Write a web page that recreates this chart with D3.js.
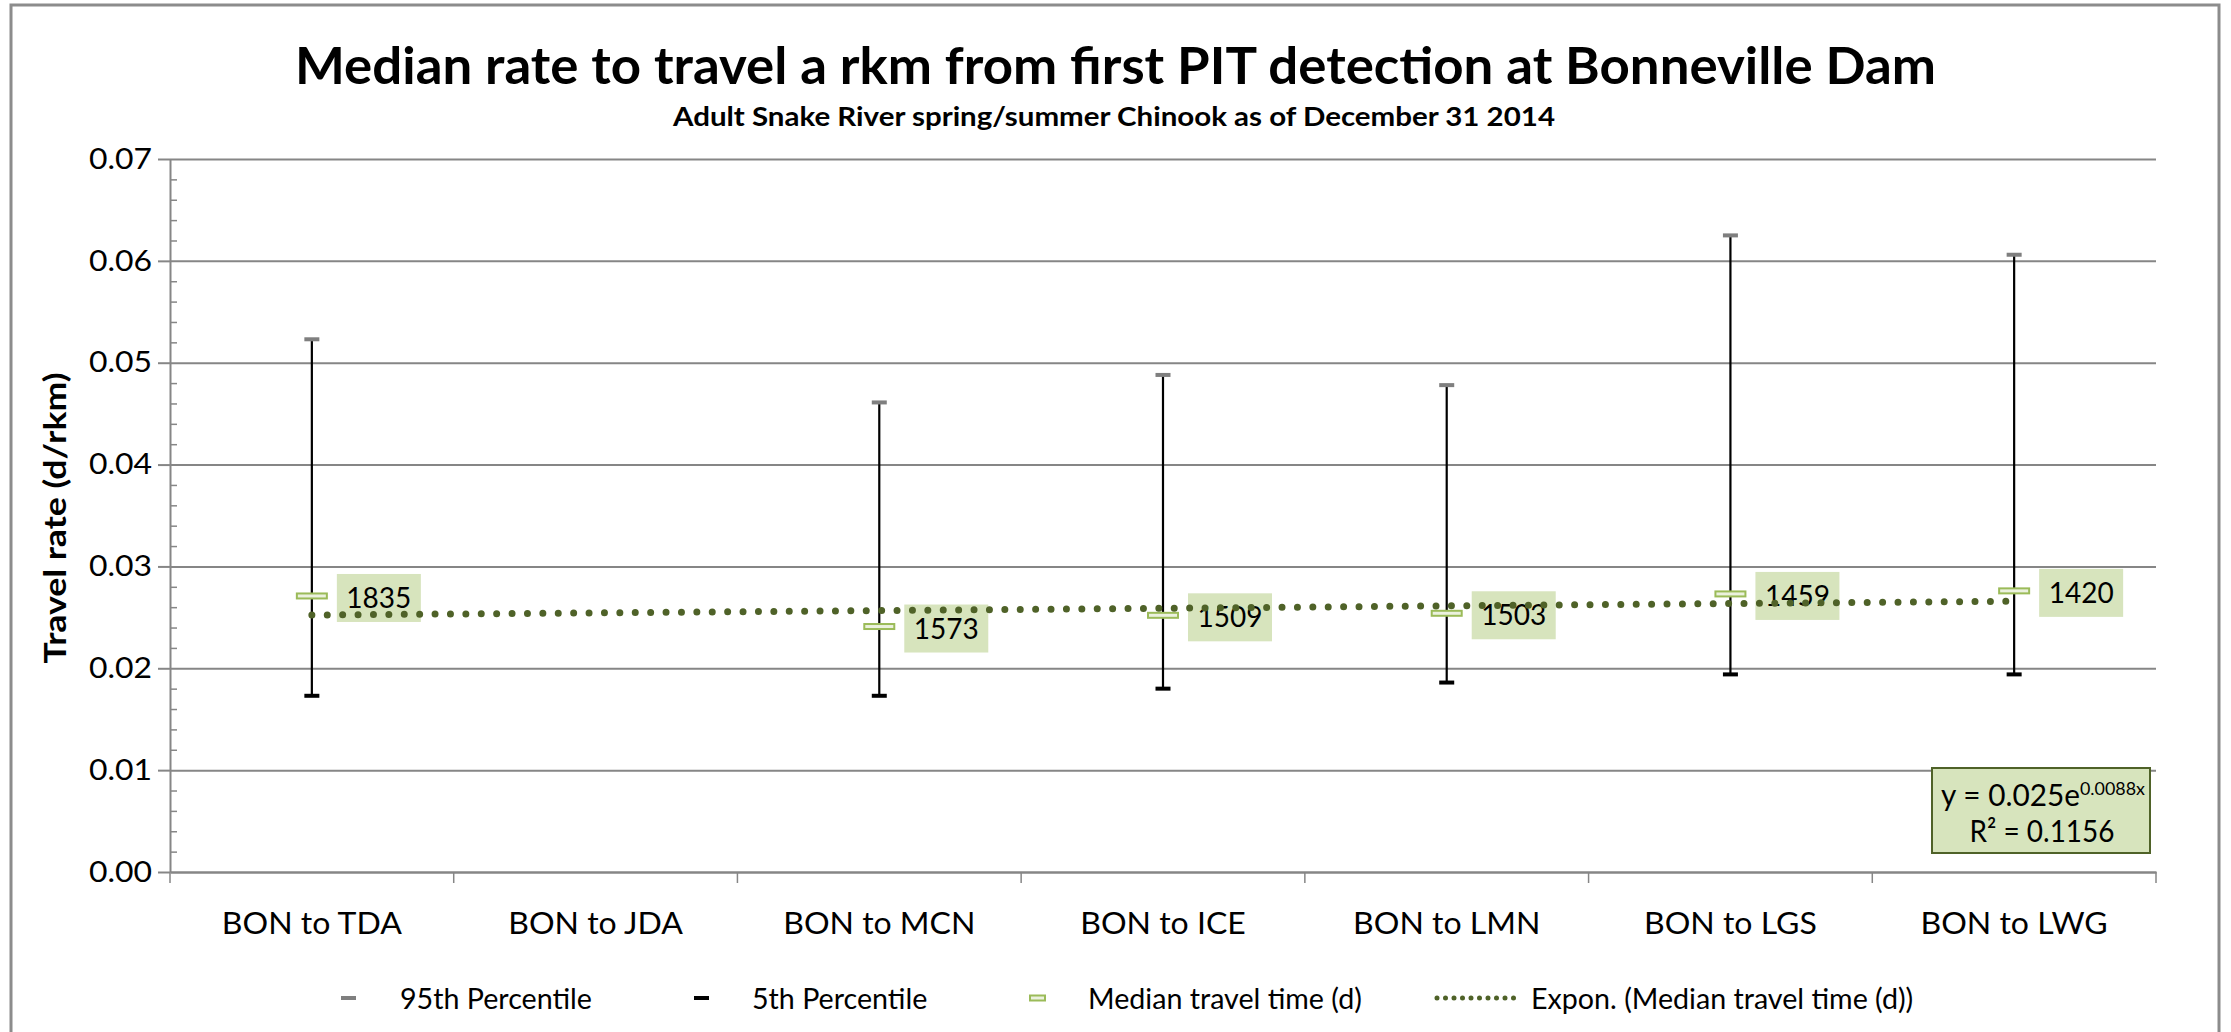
<!DOCTYPE html>
<html><head><meta charset="utf-8">
<script src="https://cdn.jsdelivr.net/npm/d3@7"></script>
<style>body{margin:0;background:#fff;} svg{display:block;} text{font-family:Lato,"Open Sans",sans-serif;}</style>
</head><body>
<svg id="chart" width="2231" height="1032"></svg>
<script>
// ---------- data ----------
const categories = ["BON to TDA","BON to JDA","BON to MCN","BON to ICE","BON to LMN","BON to LGS","BON to LWG"];
const p95 = [0.0523, null, 0.0461, 0.0488, 0.0478, 0.0625, 0.0606];
const p5 = [0.0173, null, 0.0173, 0.0180, 0.0186, 0.0194, 0.0194];
const median = [0.0271, null, 0.0241, 0.0252, 0.0254, 0.0273, 0.0276];
const counts = [1835, null, 1573, 1509, 1503, 1459, 1420];
const yTicks = [0, 0.01, 0.02, 0.03, 0.04, 0.05, 0.06, 0.07];
const trendCoef = 0.025;
const trendRate = 0.0088;
const trendR2 = 0.1156;
const legendLabels = ["95th Percentile", "5th Percentile", "Median travel time (d)", "Expon. (Median travel time (d))"];
const titleText = "Median rate to travel a rkm from first PIT detection at Bonneville Dam";
const subtitleText = "Adult Snake River spring/summer Chinook as of December 31 2014";
const yTitleText = "Travel rate (d/rkm)";

// ---------- layout ----------
const W = 2231, H = 1032;
const plot = {left: 170, right: 2156, top: 159, bottom: 872};
const gridColor = "#868686";
const svg = d3.select("#chart");

function stretch(sel, refWidth) {
  const nodes = sel.nodes();
  const k = refWidth / nodes[0].getComputedTextLength();
  nodes.forEach(n => {
    const w = n.getComputedTextLength();
    n.setAttribute("textLength", w * k);
    n.setAttribute("lengthAdjust", "spacingAndGlyphs");
  });
}

// outer frame
svg.append("rect").attr("x", 11).attr("y", 5).attr("width", 2208).attr("height", 1040)
  .attr("fill", "#fff").attr("stroke", "#8c8c8c").attr("stroke-width", 3);

const x = d3.scaleBand().domain(categories).range([plot.left, plot.right]).padding(0);
const y = d3.scaleLinear().domain([0, 0.07]).range([plot.bottom, plot.top]);
const bw = x.bandwidth();
const cx = c => x(c) + bw / 2;

// titles
const t1 = svg.append("text").attr("x", W / 2).attr("y", 84).attr("text-anchor", "middle")
  .attr("font-size", 51).attr("font-weight", 700).attr("fill", "#000").text(titleText);
stretch(t1, 1641);
const t2 = svg.append("text").attr("x", 1114).attr("y", 126).attr("text-anchor", "middle")
  .attr("font-size", 27).attr("font-weight", 700).attr("fill", "#000").text(subtitleText);
stretch(t2, 882);

// gridlines
svg.append("g").attr("transform", `translate(${plot.left},0)`)
  .call(d3.axisLeft(y).tickValues(yTicks.filter(d => d > 0)).tickSize(-(plot.right - plot.left)).tickFormat(""))
  .call(g => g.select(".domain").remove())
  .call(g => g.selectAll("line").attr("stroke", gridColor).attr("stroke-width", 2));

// minor ticks (inside)
const minor = d3.range(0, 0.0701, 0.002).filter(v => Math.abs(v * 100 - Math.round(v * 100)) > 1e-6);
svg.append("g").attr("transform", `translate(${plot.left},0)`)
  .call(d3.axisRight(y).tickValues(minor).tickSize(7).tickFormat(""))
  .call(g => g.select(".domain").remove())
  .call(g => g.selectAll("line").attr("stroke", gridColor).attr("stroke-width", 1.5));

// y axis
const yAxisG = svg.append("g").attr("transform", `translate(${plot.left},0)`)
  .call(d3.axisLeft(y).tickValues(yTicks).tickSize(12).tickPadding(6).tickFormat(d3.format(".2f")).tickSizeOuter(0));
yAxisG.select(".domain").attr("stroke", gridColor).attr("stroke-width", 2);
yAxisG.selectAll("line").attr("stroke", gridColor).attr("stroke-width", 2);
const yLabels = yAxisG.selectAll("text").attr("font-size", 29).attr("fill", "#000")
  .attr("font-family", "Lato, sans-serif");
stretch(yLabels, 63);

// y title
const yt = svg.append("text").attr("transform", "translate(66,518) rotate(-90)")
  .attr("text-anchor", "middle").attr("font-size", 31).attr("font-weight", 700).attr("fill", "#000").text(yTitleText);
stretch(yt, 291);

// x axis
const xAxisG = svg.append("g").attr("transform", `translate(0,${plot.bottom})`)
  .call(d3.axisBottom(x).tickSize(0).tickSizeOuter(0));
xAxisG.select(".domain").attr("stroke", gridColor).attr("stroke-width", 2.5);
const xLabels = xAxisG.selectAll("text").attr("y", 62).attr("dy", null)
  .attr("font-size", 30).attr("fill", "#000").attr("font-family", "Lato, sans-serif");
stretch(xLabels, 180);
// boundary ticks
const bounds = categories.map(c => x(c)).concat([plot.right]);
svg.append("g").selectAll("line").data(bounds).join("line")
  .attr("x1", d => d).attr("x2", d => d).attr("y1", plot.bottom).attr("y2", plot.bottom + 11)
  .attr("stroke", gridColor).attr("stroke-width", 1.5);

// data rows
const rows = categories.map((c, i) => ({c, hi: p95[i], lo: p5[i], med: median[i], n: counts[i]}))
  .filter(d => d.med != null);

// error bars
const eb = svg.append("g");
eb.selectAll("line.v").data(rows).join("line").attr("class", "v")
  .attr("x1", d => cx(d.c)).attr("x2", d => cx(d.c))
  .attr("y1", d => y(d.hi)).attr("y2", d => y(d.lo))
  .attr("stroke", "#000").attr("stroke-width", 2.2);
eb.selectAll("rect.hi").data(rows).join("rect").attr("class", "hi")
  .attr("x", d => cx(d.c) - 7.5).attr("y", d => y(d.hi) - 2).attr("width", 15).attr("height", 4)
  .attr("fill", "#7f7f7f");
eb.selectAll("rect.lo").data(rows).join("rect").attr("class", "lo")
  .attr("x", d => cx(d.c) - 7.5).attr("y", d => y(d.lo) - 2).attr("width", 15).attr("height", 4)
  .attr("fill", "#000");
eb.selectAll("rect.med").data(rows).join("rect").attr("class", "med")
  .attr("x", d => cx(d.c) - 15).attr("y", d => y(d.med) - 2.5).attr("width", 30).attr("height", 5)
  .attr("fill", "#ebf1de").attr("stroke", "#9bbb59").attr("stroke-width", 2);

// data labels
const lab = svg.append("g");
lab.selectAll("rect").data(rows).join("rect")
  .attr("x", d => cx(d.c) + 25).attr("y", d => y(d.med) - 22).attr("width", 84).attr("height", 48)
  .attr("fill", "#d7e4bd");
const labT = lab.selectAll("text").data(rows).join("text")
  .attr("x", d => cx(d.c) + 67).attr("y", d => y(d.med) + 12).attr("text-anchor", "middle")
  .attr("font-size", 29).attr("fill", "#000").text(d => d.n);
stretch(labT, 65);

// trendline (exponential, from displayed equation)
const idx = d3.scaleLinear().domain([1, categories.length]).range([cx(categories[0]), cx(categories[categories.length - 1])]);
const tPts = d3.range(1, categories.length + 0.001, 0.1).map(t => [idx(t), y(trendCoef * Math.exp(trendRate * t))]);
svg.append("path").attr("d", d3.line()(tPts)).attr("fill", "none")
  .attr("stroke", "#4f6228").attr("stroke-width", 7).attr("stroke-linecap", "round")
  .attr("stroke-dasharray", "0 15.4");

// equation box
svg.append("rect").attr("x", 1932).attr("y", 768).attr("width", 218).attr("height", 85)
  .attr("fill", "#d7e4bd").attr("stroke", "#4f6228").attr("stroke-width", 2);
const eq1 = svg.append("text").attr("x", 0).attr("y", 0).attr("text-anchor", "middle")
  .attr("font-size", 30).attr("fill", "#000");
eq1.append("tspan").text(`y = ${trendCoef}e`);
eq1.append("tspan").attr("font-size", 18).attr("dy", -11).text(`${trendRate}x`);
const eq1w = eq1.node().getComputedTextLength();
eq1.attr("transform", `translate(2043,806) scale(${204 / eq1w},1)`);
const eq2 = svg.append("text").attr("x", 2042).attr("y", 842).attr("text-anchor", "middle")
  .attr("font-size", 30).attr("fill", "#000").text(`R² = ${trendR2}`);
stretch(eq2, 145);

// legend
const legX = [341, 694, 1030, 1437];
const legTextX = [400, 752, 1088, 1531];
const legY = 998;
const lg = svg.append("g");
lg.append("rect").attr("x", legX[0]).attr("y", legY - 2).attr("width", 15).attr("height", 4).attr("fill", "#7f7f7f");
lg.append("rect").attr("x", legX[1]).attr("y", legY - 2).attr("width", 15).attr("height", 4).attr("fill", "#000");
lg.append("rect").attr("x", legX[2]).attr("y", legY - 2.5).attr("width", 15).attr("height", 5)
  .attr("fill", "#ebf1de").attr("stroke", "#9bbb59").attr("stroke-width", 2);
lg.append("line").attr("x1", legX[3]).attr("x2", legX[3] + 85).attr("y1", legY).attr("y2", legY)
  .attr("stroke", "#4f6228").attr("stroke-width", 5).attr("stroke-linecap", "round").attr("stroke-dasharray", "0 8.5");
const legT = lg.selectAll("text").data(legendLabels).join("text")
  .attr("x", (d, i) => legTextX[i]).attr("y", legY + 11)
  .attr("font-size", 29).attr("fill", "#000").text(d => d);
stretch(legT, 192);
</script>
</body></html>
